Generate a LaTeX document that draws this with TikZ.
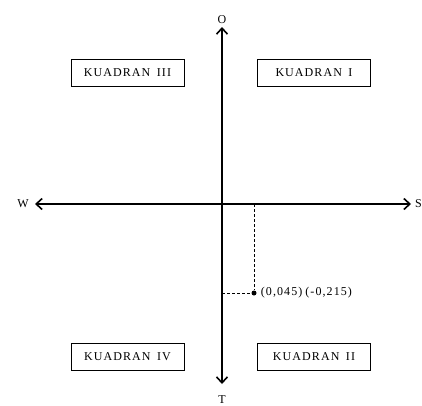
\documentclass[tikz,border=0pt]{standalone}
\usepackage{fontspec}
\setmainfont{Liberation Serif}[LetterSpace=9, WordSpace=1.6]
\usetikzlibrary{arrows.meta,positioning}

\begin{document}
\begin{tikzpicture}[
    x=1pt, y=-1pt,
    every node/.style={font=\fontsize{12}{14}\selectfont},
    quad/.style={draw, line width=0.8pt, minimum width=113pt, minimum height=27pt, inner sep=2pt},
    axis/.style={{Straight Barb[length=6pt,width=11pt,line width=1.6pt]}-{Straight Barb[length=6pt,width=11pt,line width=1.6pt]}, line width=1.8pt},
    guide/.style={dashed, line width=0.7pt, dash pattern=on 3pt off 2pt},
    dot/.style={circle, fill, inner sep=0pt, minimum size=5pt}
]
\useasboundingbox (0,0) rectangle (422,405);
% axis ends
\coordinate (north) at (222,27);
\coordinate (south) at (222,384);
\coordinate (west) at (35,204);
\coordinate (east) at (411,204);
\node[inner sep=1pt, above=2pt of north] (O) {O};
\node[inner sep=0pt, anchor=south] (T) at (222,404) {T};
\node[inner sep=1pt, left=5pt of west] (W) {W};
\node[inner sep=0pt, anchor=east] (S) at (422,204) {S};

\draw[axis] (west) -- (east);
\draw[axis] (south) -- (north);

% quadrants
\node[quad] (q3) at (127.5,72.5) {KUADRAN III};
\node[quad] (q1) at (314,72.5) {KUADRAN I};
\node[quad] (q4) at (127.5,356.5) {KUADRAN IV};
\node[quad] (q2) at (314,356.5) {KUADRAN II};

% point
\node[dot] (pt) at (254,293) {};
\node[right=3pt of pt, inner sep=1pt] (ptlabel) {(0,045)\hspace{3pt}(-0,215)};
\coordinate (px) at (254,204);
\coordinate (py) at (222,293);
\draw[guide] (px) -- (pt);
\draw[guide] (py) -- (pt);
\end{tikzpicture}
\end{document}
